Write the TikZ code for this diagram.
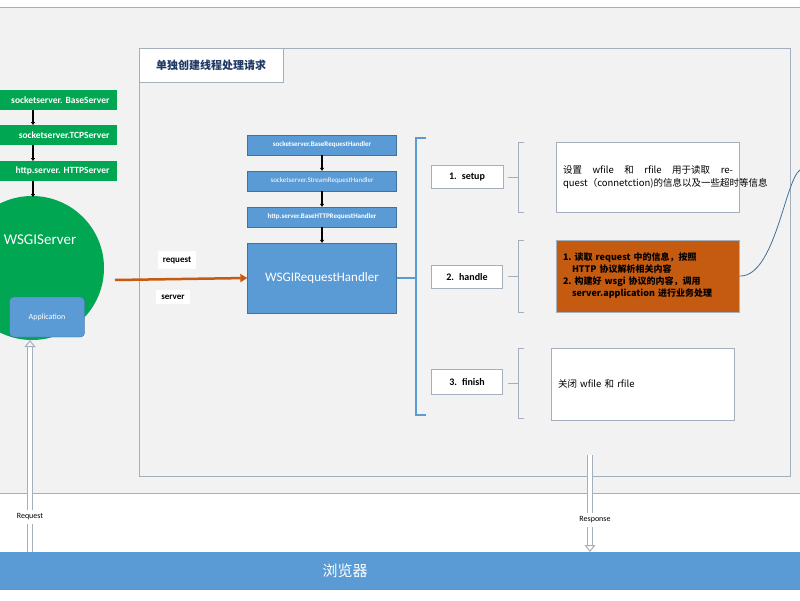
\documentclass[tikz,border=0pt]{standalone}
\usepackage{fontspec}
\setmainfont{Carlito}
\newfontfamily\cjk{Noto Sans CJK SC}
\usetikzlibrary{arrows.meta}
\definecolor{panelgray}{RGB}{242,242,242}
\definecolor{framegray}{RGB}{165,176,190}
\definecolor{servergreen}{RGB}{0,166,81}
\definecolor{handlerblue}{RGB}{91,155,213}
\definecolor{borderblue}{RGB}{65,113,156}
\definecolor{rustorange}{RGB}{197,90,17}
\definecolor{titleblue}{RGB}{31,56,100}

\begin{document}
\begin{tikzpicture}[x=1pt, y=-1pt,
    greentext/.style={text=white, anchor=east, font=\bfseries\fontsize{9.5}{11}\selectfont},
    bluebox/.style={fill=handlerblue, draw=borderblue, text=white, font=\bfseries\fontsize{7}{8}\selectfont},
    stepbox/.style={fill=white, draw=framegray, font=\bfseries\fontsize{10}{12}\selectfont},
    notebox/.style={fill=white, draw=framegray, align=justify, text width=170pt, font=\cjk\fontsize{9.5}{13}\selectfont},
    label/.style={fill=white, inner sep=5pt, font=\bfseries\fontsize{9}{10}\selectfont},
    black arrow/.style={-{Triangle[length=3pt,width=4pt]}, line width=1.6pt},
    double arrow/.style={double=white, double distance=4pt, line width=1pt, draw=framegray, -{Triangle[open,length=7pt,width=11pt]}}]
  \useasboundingbox (0,0) rectangle (800,600);
  \fill[white] (0,0) rectangle (800,600);
  \fill[panelgray] (0,7) rectangle (800,493);
  \draw[framegray] (0,7) -- (800,7);
  \draw[framegray] (0,493) -- (800,493);
  \fill[handlerblue] (0,552) rectangle (800,590);
  \node[text=white, font=\cjk\fontsize{15}{17}\selectfont] (browser) at (345,571) {浏览器};

  % thread frame
  \draw[framegray, fill=panelgray] (139,48) rectangle (790,476);
  \node[draw=framegray, fill=white, text=titleblue, minimum width=144pt, minimum height=34pt, font=\cjk\bfseries\fontsize{11}{13}\selectfont] (title) at (211,65) {单独创建线程处理请求};

  % server side
  \fill[servergreen] (0,90) rectangle (117,110);
  \fill[servergreen] (0,125) rectangle (117,145);
  \fill[servergreen] (0,161) rectangle (117,181);
  \node[greentext] (base) at (113,100) {socketserver. BaseServer};
  \node[greentext] (tcp) at (113,135) {socketserver.TCPServer};
  \node[greentext] (http) at (113,171) {http.server. HTTPServer};
  \coordinate (baseb) at (33,110);
  \coordinate (tcpt) at (33,125);
  \coordinate (tcpb) at (33,145);
  \coordinate (httpt) at (33,161);
  \coordinate (httpb) at (33,181);
  \coordinate (wsgitop) at (33,197);
  \node[circle, fill=servergreen, minimum size=144pt] (wsgi) at (32,268) {};
  \node[text=white, font=\fontsize{15}{17}\selectfont] (wsgilabel) at (40,240) {WSGIServer};
  \node[rounded corners=4pt, fill=handlerblue, draw=borderblue, text=white, minimum width=75pt, minimum height=40pt, font=\fontsize{8}{9}\selectfont] (app) at (47,317) {Application};
  \draw[black arrow] (baseb) -- (tcpt);
  \draw[black arrow] (tcpb) -- (httpt);
  \draw[black arrow] (httpb) -- (wsgitop);

  % handler side
  \node[bluebox, minimum width=149pt, minimum height=20pt] (brh) at (322,145) {socketserver.BaseRequestHandler};
  \node[bluebox, minimum width=149pt, minimum height=20pt, font=\fontsize{7}{8}\selectfont] (srh) at (322,181) {socketserver.StreamRequestHandler};
  \node[bluebox, minimum width=149pt, minimum height=20pt] (bhrh) at (322,217) {http.server.BaseHTTPRequestHandler};
  \node[bluebox, minimum width=149pt, minimum height=70pt, font=\fontsize{13}{15}\selectfont] (wrh) at (322,278) {WSGIRequestHandler};
  \draw[black arrow] (brh) -- (srh);
  \draw[black arrow] (srh) -- (bhrh);
  \draw[black arrow] (bhrh) -- (wrh);

  \node[label] (req) at (177,260) {request};
  \node[label] (srv) at (173,297) {server};
  \draw[rustorange, line width=2.5pt, -{Triangle[length=7pt,width=8pt]}] (115,280) -- (wrh.west);

  % steps
  \draw[handlerblue, line width=2pt] (426,138) -- (416,138) -- (416,415) -- (426,415);
  \draw[handlerblue, line width=1.5pt] (wrh.east) -- (416,278);
  \node[stepbox, minimum width=72pt, minimum height=23pt] (setup) at (467,177) {1.\enspace setup};
  \node[stepbox, minimum width=71pt, minimum height=23pt] (handle) at (467,277) {2.\enspace handle};
  \node[stepbox, minimum width=71pt, minimum height=25pt] (finish) at (467,382) {3.\enspace finish};
  \foreach \top/\bot in {142/212, 240/312, 348/418} {
    \draw[framegray] (524,\top) -- (518,\top) -- (518,\bot) -- (524,\bot);
    \draw[framegray] (508,{(\top+\bot)/2}) -- (518,{(\top+\bot)/2});
  }
  \node[notebox, minimum width=183pt, minimum height=70pt] (setupnote) at (648,177) {\hyphenpenalty=10000 设置 wfile 和 rfile 用于读取 request（connetction)的信息以及一些超时等信息};
  \node[notebox, fill=rustorange, draw=framegray, minimum width=183pt, minimum height=72pt, align=left, font=\cjk\bfseries\fontsize{9}{12}\selectfont] (handlenote) at (648,276) {1.\ 读取 request 中的信息，按照\\\quad HTTP 协议解析相关内容\\2.\ 构建好 wsgi 协议的内容，调用\\\quad server.application 进行业务处理};
  \node[notebox, minimum width=183pt, minimum height=72pt, align=left] (finishnote) at (643,384) {关闭 wfile 和 rfile};
  \draw[borderblue, line width=0.8pt] (handlenote.east) .. controls (775,277) and (785,180) .. (800,170);

  % browser connection
  \coordinate (reqfoot) at (30,552);
  \coordinate (reqhead) at (30,340);
  \coordinate (resfoot) at (590,455);
  \coordinate (reshead) at (590,552);
  \draw[double arrow] (reqfoot) -- (reqhead);
  \node[fill=white, font=\fontsize{8}{9}\selectfont] (request) at (30,517) {Request};
  \draw[double arrow] (resfoot) -- (reshead);
  \node[fill=white, font=\fontsize{8}{9}\selectfont] (response) at (595,520) {Response};
\end{tikzpicture}
\end{document}
